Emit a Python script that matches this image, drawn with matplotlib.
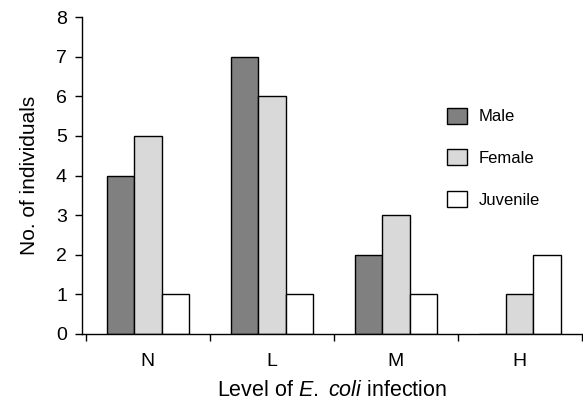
import matplotlib.pyplot as plt
import numpy as np

plt.rcParams['font.family'] = ['Liberation Sans', 'DejaVu Sans']
plt.rcParams['mathtext.fontset'] = 'custom'
plt.rcParams['mathtext.it'] = 'Liberation Sans:italic'
plt.rcParams['mathtext.rm'] = 'Liberation Sans'

categories = ['N', 'L', 'M', 'H']
male = [4, 7, 2, 0]
female = [5, 6, 3, 1]
juvenile = [1, 1, 1, 2]
series = [('Male', male, '#808080'), ('Female', female, '#d9d9d9'), ('Juvenile', juvenile, '#ffffff')]

fig = plt.figure(figsize=(5.83, 4.0), dpi=100)
ax = fig.add_axes([0.141, 0.165, 0.857, 0.7925])

x = np.arange(len(categories))
w = 0.22
for i, (name, vals, col) in enumerate(series):
    ax.bar(x + (i - 1) * w, vals, w, color=col, edgecolor='black', linewidth=1, label=name)

ax.set_xlim(-0.53, 3.5)
ax.set_ylim(0, 8)
ax.set_yticks(range(9))
ax.set_xticks(x)
ax.set_xticklabels(categories)
ax.set_xticks(np.arange(-0.5, 3.6, 1), minor=True)
ax.tick_params(axis='x', which='major', length=0, labelsize=14, pad=14)
ax.tick_params(axis='x', which='minor', length=5, width=1)
ax.tick_params(axis='y', labelsize=14, length=5, width=1, pad=6)
for s in ['top', 'right']:
    ax.spines[s].set_visible(False)
ax.spines['left'].set_linewidth(1)
ax.spines['bottom'].set_linewidth(1)
ax.spines['left'].set_zorder(3)
ax.spines['bottom'].set_zorder(3)

ax.set_ylabel('No. of individuals', fontsize=15, labelpad=12)
ax.set_xlabel('Level of $\\mathit{E.}$ $\\mathit{coli}$ infection', fontsize=15.5, labelpad=7)

ax.legend(loc='upper left', bbox_to_anchor=(0.717, 0.735), frameon=False, fontsize=12,
          handlelength=1.2, handleheight=1.1, labelspacing=1.5, handletextpad=0.7,
          borderaxespad=0)

plt.savefig('out.png', dpi=100)
plt.close()
